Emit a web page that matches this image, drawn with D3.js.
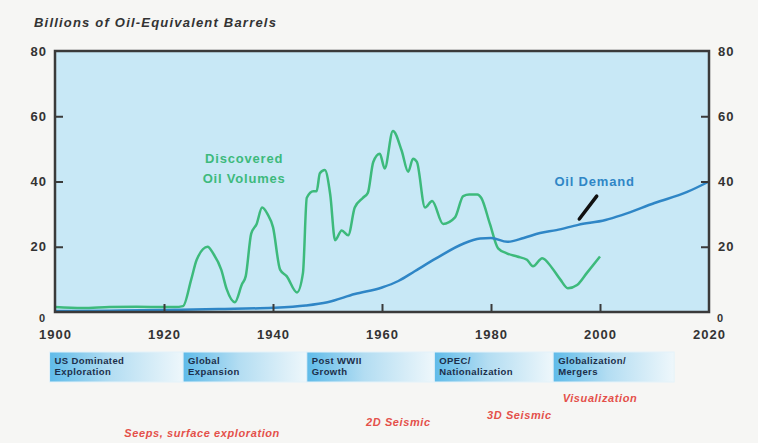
<!DOCTYPE html>
<html>
<head>
<meta charset="utf-8">
<script src="https://cdn.jsdelivr.net/npm/d3@7"></script>
<style>
  body { margin: 0; background: #f6f6f4; }
  svg { display: block; font-family: "Liberation Sans", Arial, sans-serif; }
</style>
</head>
<body>
<div id="chart"></div>
<script>
// discovered oil volumes (billions boe)
const discYears = [1900, 1905, 1910, 1915, 1920, 1922, 1923.5, 1925, 1926, 1928, 1929, 1930.5, 1931.5, 1933, 1934.3, 1935, 1936, 1937, 1938, 1939, 1940, 1941.3, 1942.5, 1944.4, 1945.5, 1946.2, 1947.4, 1948, 1948.6, 1949.5, 1950.5, 1951.4, 1952.6, 1953.8, 1955, 1956.5, 1957.4, 1958.4, 1959.6, 1960.5, 1962, 1963.6, 1964.8, 1965.7, 1966.4, 1967.9, 1969.2, 1971.2, 1973.4, 1974.9, 1976, 1977.5, 1978.2, 1979.8, 1981.3, 1982.9, 1984.8, 1986.6, 1987.7, 1989.4, 1991.2, 1992.7, 1994.1, 1995.8, 1997.6, 2000];
const discValues = [1.5, 1.2, 1.5, 1.6, 1.5, 1.5, 1.8, 10, 16, 20, 18, 13, 7, 3, 8.5, 11, 24, 27, 32, 30, 26, 13, 11, 6, 12, 35, 37, 37, 42.5, 43.5, 36, 22, 25, 23.5, 32, 35, 36.5, 46, 48.5, 44, 55.5, 49.5, 43, 47, 46, 32, 34, 27, 29, 35.5, 36, 36, 35, 27, 19.5, 18, 17, 16, 14, 16.5, 13.5, 10, 7.3, 8.3, 12, 17];

// oil demand
const demandYears = [1900, 1910, 1920, 1930, 1940, 1946, 1950, 1955, 1960, 1963, 1966, 1970, 1975, 1978, 1980, 1983, 1986, 1989, 1992, 1996, 2001, 2004, 2010, 2016, 2020];
const demandValues = [0.3, 0.4, 0.6, 0.9, 1.3, 2, 3, 5.5, 7.5, 9.5, 12.5, 16.5, 21, 22.5, 22.7, 21.5, 22.7, 24.2, 25.1, 26.7, 28.2, 29.7, 33.4, 36.8, 40];

const yearTicks = [1900, 1920, 1940, 1960, 1980, 2000, 2020];
const valueTicks = [0, 20, 40, 60, 80];

// eras along the bottom
const eraStarts = [1899, 1923.5, 1946.2, 1969.6, 1991.4];
const eraEnds = [1923.5, 1946.2, 1969.6, 1991.4, 2013.6];
const eraLabels = [["US Dominated", "Exploration"], ["Global", "Expansion"], ["Post WWII", "Growth"], ["OPEC/", "Nationalization"], ["Globalization/", "Mergers"]];

// technology notes
const techLabels = ["Seeps, surface exploration", "2D Seismic", "3D Seismic", "Visualization"];
const techYears = [1927, 1963, 1985.2, 2000];
const techRows = [433, 422, 415, 398];

const width = 758, height = 443;
const margin = {top: 51, right: 49, bottom: 131, left: 55};

const svg = d3.select("#chart").append("svg")
    .attr("width", width)
    .attr("height", height);

const x = d3.scaleLinear()
    .domain([1900, 2020])
    .range([margin.left, width - margin.right]);

const y = d3.scaleLinear()
    .domain([0, 80])
    .range([height - margin.bottom, margin.top]);

const defs = svg.append("defs");
const grad = defs.append("linearGradient").attr("id", "era");
grad.append("stop").attr("offset", "0%").attr("stop-color", "#5fbbe9");
grad.append("stop").attr("offset", "45%").attr("stop-color", "#b3ddf2");
grad.append("stop").attr("offset", "100%").attr("stop-color", "#eef7fb");

// plot background
svg.append("rect")
    .attr("x", x(1900)).attr("y", y(80))
    .attr("width", x(2020) - x(1900))
    .attr("height", y(0) - y(80))
    .attr("fill", "#c8e8f6");

const line = d3.line()
    .x(d => x(d[0]))
    .y(d => y(d[1]))
    .curve(d3.curveMonotoneX);

svg.append("path")
    .datum(discYears.map((yr, i) => [yr, discValues[i]]))
    .attr("d", line)
    .attr("fill", "none")
    .attr("stroke", "#3dba7c")
    .attr("stroke-width", 2.5);

svg.append("path")
    .datum(demandYears.map((yr, i) => [yr, demandValues[i]]))
    .attr("d", line)
    .attr("fill", "none")
    .attr("stroke", "#2f86c6")
    .attr("stroke-width", 2.5);

// frame
svg.append("rect")
    .attr("x", x(1900)).attr("y", y(80))
    .attr("width", x(2020) - x(1900))
    .attr("height", y(0) - y(80))
    .attr("fill", "none")
    .attr("stroke", "#3a3a3a")
    .attr("stroke-width", 2.5);

function styleAxis(g) {
    g.select(".domain").remove();
    g.selectAll(".tick line").attr("stroke", "#3a3a3a").attr("stroke-width", 2);
    g.selectAll("text")
        .attr("fill", "#333")
        .attr("font-size", "13px")
        .attr("font-weight", "bold")
        .attr("letter-spacing", "1px");
}

function zeroLabel(g, dx) {
    g.selectAll(".tick").filter(d => d === 0).select("text")
        .attr("font-size", "11px")
        .attr("dy", "0.35em")
        .attr("y", 6)
        .attr("x", dx);
}

svg.append("g")
    .attr("transform", `translate(${x(1900)},0)`)
    .call(d3.axisLeft(y).tickValues(valueTicks).tickSize(-8).tickPadding(8))
    .call(styleAxis)
    .call(g => g.selectAll(".tick").filter(d => d === 0 || d === 80).select("line").remove())
    .call(g => zeroLabel(g, -9));

svg.append("g")
    .attr("transform", `translate(${x(2020)},0)`)
    .call(d3.axisRight(y).tickValues(valueTicks).tickSize(-8).tickPadding(9))
    .call(styleAxis)
    .call(g => g.selectAll(".tick").filter(d => d === 0 || d === 80).select("line").remove())
    .call(g => zeroLabel(g, 8));

svg.append("g")
    .attr("transform", `translate(0,${y(0)})`)
    .call(d3.axisBottom(x).tickValues(yearTicks).tickFormat(d3.format("d")).tickSize(-8).tickPadding(18))
    .call(styleAxis)
    .call(g => g.selectAll(".tick").filter(d => d === 1900 || d === 2020).select("line").remove());

// title
svg.append("text")
    .attr("x", 34).attr("y", 27)
    .attr("fill", "#333")
    .attr("font-size", "13px")
    .attr("font-weight", "bold")
    .attr("font-style", "italic")
    .attr("letter-spacing", "1.2px")
    .text("Billions of Oil-Equivalent Barrels");

// series labels
const discLabel = svg.append("text")
    .attr("fill", "#3dba7c")
    .attr("font-size", "13px")
    .attr("font-weight", "bold")
    .attr("letter-spacing", "0.8px")
    .attr("text-anchor", "middle");
discLabel.append("tspan").attr("x", x(1934.7)).attr("y", y(45.8)).text("Discovered");
discLabel.append("tspan").attr("x", x(1934.7)).attr("y", y(39.6)).text("Oil Volumes");

svg.append("text")
    .attr("x", x(1999)).attr("y", y(38.7))
    .attr("fill", "#2f86c6")
    .attr("font-size", "13px")
    .attr("font-weight", "bold")
    .attr("letter-spacing", "0.8px")
    .attr("text-anchor", "middle")
    .text("Oil Demand");

svg.append("line")
    .attr("x1", x(1999.4)).attr("y1", y(35.5))
    .attr("x2", x(1996.2)).attr("y2", y(28.5))
    .attr("stroke", "#111")
    .attr("stroke-width", 3.5)
    .attr("stroke-linecap", "round");

// era boxes
const eras = svg.append("g");
eraStarts.forEach((s, i) => {
    const bx = x(s);
    eras.append("rect")
        .attr("x", bx).attr("y", 352)
        .attr("width", x(eraEnds[i]) - bx)
        .attr("height", 30)
        .attr("fill", "url(#era)")
        .attr("stroke", "#e4f2f9")
        .attr("stroke-width", 1);
    const t = eras.append("text")
        .attr("fill", "#1c2f4a")
        .attr("font-size", "9.5px")
        .attr("font-weight", "bold")
        .attr("letter-spacing", "0.4px");
    eraLabels[i].forEach((l, j) => {
        t.append("tspan").attr("x", bx + 5).attr("y", 364 + j * 11).text(l);
    });
});

// technology notes
techLabels.forEach((l, i) => {
    svg.append("text")
        .attr("x", x(techYears[i])).attr("y", techRows[i] + 4)
        .attr("fill", "#e4504a")
        .attr("font-size", "11px")
        .attr("font-weight", "bold")
        .attr("font-style", "italic")
        .attr("letter-spacing", "0.6px")
        .attr("text-anchor", "middle")
        .text(l);
});
</script>
</body>
</html>
